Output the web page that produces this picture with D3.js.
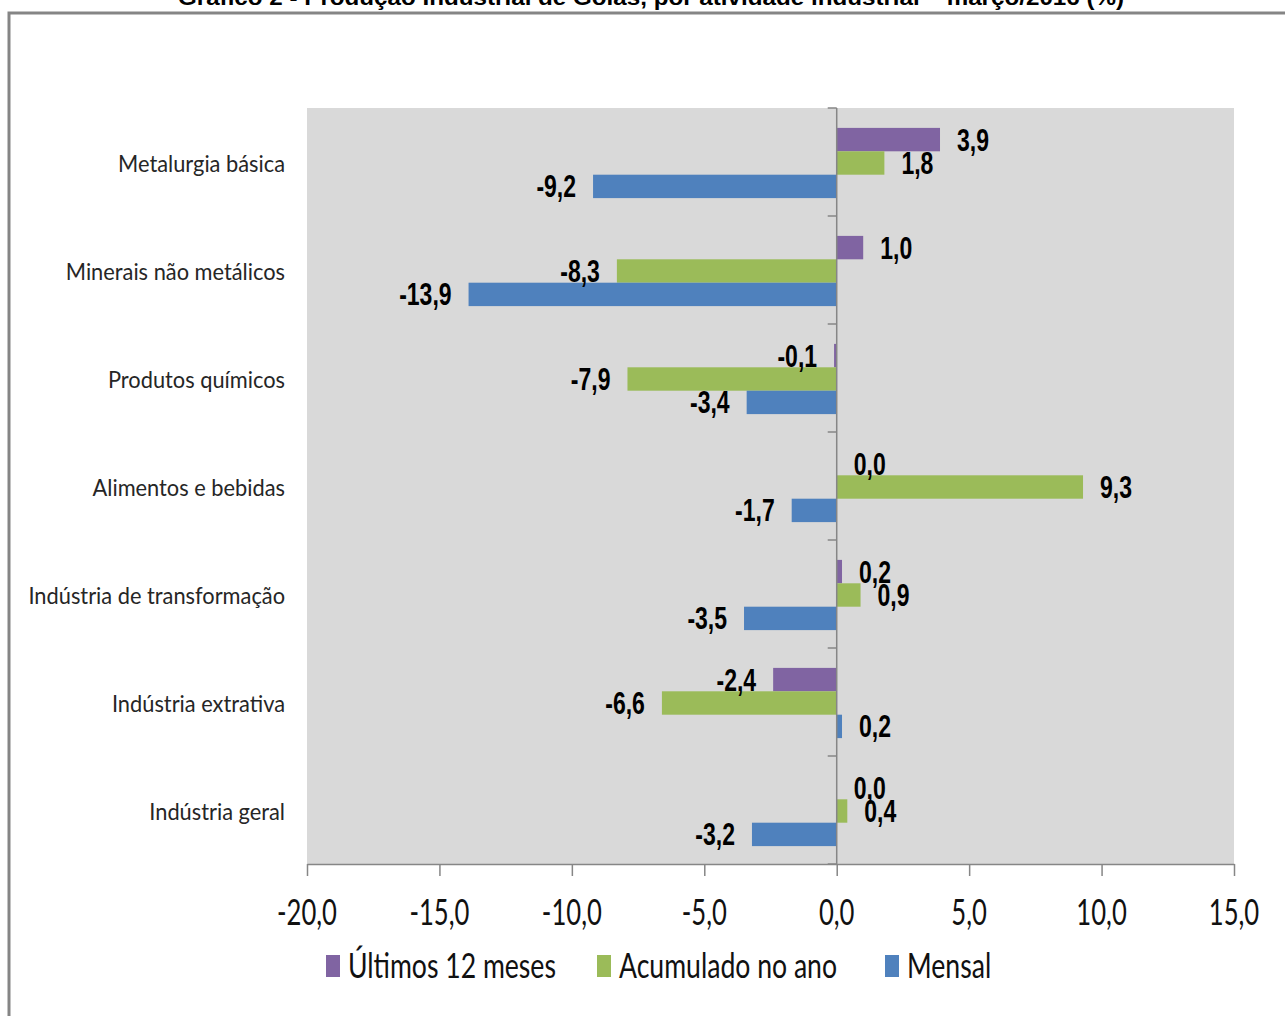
<!DOCTYPE html>
<html>
<head>
<meta charset="utf-8">
<script src="https://cdn.jsdelivr.net/npm/d3@7"></script>
<style>
  body { margin: 0; background: #fff; }
  svg { display: block; }
</style>
</head>
<body>
<div id="chart"></div>
<script>
const categories = [
  "Metalurgia básica",
  "Minerais não metálicos",
  "Produtos químicos",
  "Alimentos e bebidas",
  "Indústria de transformação",
  "Indústria extrativa",
  "Indústria geral"
];
const seriesNames = ["Últimos 12 meses", "Acumulado no ano", "Mensal"];
const ultimos12 = [3.9, 1.0, -0.1, 0.0, 0.2, -2.4, 0.0];
const acumulado = [1.8, -8.3, -7.9, 9.3, 0.9, -6.6, 0.4];
const mensal = [-9.2, -13.9, -3.4, -1.7, -3.5, 0.2, -3.2];
const xTicks = [-20, -15, -10, -5, 0, 5, 10, 15];
const titleText = "Gráfico 2 - Produção Industrial de Goiás, por atividade industrial – março/2016  (%)";

const colors = ["#8064a2", "#9bbb59", "#4f81bd"];
const seriesValues = [ultimos12, acumulado, mensal];

const width = 1285, height = 1016;
const plot = { left: 307, right: 1234, top: 108, bottom: 864 };

const svg = d3.select("#chart").append("svg")
  .attr("width", width)
  .attr("height", height);

svg.append("rect").attr("width", width).attr("height", height).attr("fill", "#fff");

// text width helper, the picture is squeezed horizontally
function measure(str, font) {
  const t = svg.append("text").style("font", font).text(str);
  const w = t.node().getComputedTextLength();
  t.remove();
  return w;
}

function addText(g, str, x, y, font, sx, anchor, fill) {
  return g.append("text")
    .attr("transform", "translate(" + x + "," + y + ") scale(" + sx + ",1)")
    .attr("text-anchor", anchor)
    .style("font", font)
    .attr("fill", fill)
    .text(str);
}

const fmt = v => d3.format(".1f")(v).replace(".", ",").replace("−", "-");

// outer frame
svg.append("path")
  .attr("d", "M9," + height + " L9,13 L" + width + ",13")
  .attr("fill", "none")
  .attr("stroke", "#858585")
  .attr("stroke-width", 3);

// title (cut at top in the original)
const titleFont = "bold 22px 'Liberation Sans', Arial, sans-serif";
addText(svg, titleText, 651, 5, titleFont, 947 / measure(titleText, titleFont), "middle", "#000");

// plot area
svg.append("rect")
  .attr("x", plot.left).attr("y", plot.top)
  .attr("width", plot.right - plot.left).attr("height", plot.bottom - plot.top)
  .attr("fill", "#d9d9d9");

const x = d3.scaleLinear().domain([-20, 15]).range([plot.left, plot.right]);
const y = d3.scaleBand().domain(categories).range([plot.top, plot.bottom])
  .paddingInner(0.35).paddingOuter(0.175);
const ySub = d3.scaleBand().domain(seriesNames).range([0, y.bandwidth()]);
const step = y.step();

// bars
const rows = svg.append("g").selectAll("g")
  .data(categories)
  .join("g")
  .attr("transform", d => "translate(0," + (y(d) + 1) + ")");

rows.selectAll("rect")
  .data((c, i) => seriesNames.map((s, j) => ({ s, j, v: seriesValues[j][i] })))
  .join("rect")
  .attr("x", d => x(Math.min(0, d.v)))
  .attr("width", d => Math.abs(x(d.v) - x(0)))
  .attr("y", d => ySub(d.s))
  .attr("height", ySub.bandwidth())
  .attr("fill", d => colors[d.j]);

// zero line with category ticks
const axisColor = "#868686";
svg.append("line")
  .attr("x1", x(0)).attr("x2", x(0))
  .attr("y1", plot.top).attr("y2", plot.bottom)
  .attr("stroke", axisColor).attr("stroke-width", 1.5);

svg.append("g").selectAll("line")
  .data(d3.range(categories.length + 1))
  .join("line")
  .attr("x1", x(0) - 9).attr("x2", x(0))
  .attr("y1", i => plot.top + i * step).attr("y2", i => plot.top + i * step)
  .attr("stroke", axisColor).attr("stroke-width", 1.5);

// bottom axis
const xAxis = svg.append("g")
  .attr("transform", "translate(0," + plot.bottom + ")")
  .call(d3.axisBottom(x).tickValues(xTicks).tickSize(12).tickSizeOuter(0).tickFormat(""));
xAxis.select(".domain").attr("stroke", axisColor).attr("stroke-width", 1.5);
xAxis.selectAll(".tick line").attr("stroke", axisColor).attr("stroke-width", 1.5);

const tickFont = "37px Lato, 'Open Sans', sans-serif";
const tickSx = 60 / measure("-20,0", tickFont);
xTicks.forEach(t => addText(svg, fmt(t), x(t), 925, tickFont, tickSx, "middle", "#111"));

// category labels
const catFont = "24px Lato, 'Open Sans', sans-serif";
const catSx = 167 / measure("Metalurgia básica", catFont);
categories.forEach(c => addText(svg, c, 285, y(c) + y.bandwidth() / 2 + 10, catFont, catSx, "end", "#262626"));

// data labels
const labFont = "bold 31px 'Liberation Sans', Arial, sans-serif";
const labSx = 32 / measure("3,9", labFont);
const labels = svg.append("g");
categories.forEach((c, i) => {
  seriesNames.forEach((s, j) => {
    const v = seriesValues[j][i];
    const yy = y(c) + 1 + ySub(s) + ySub.bandwidth() / 2 + 11;
    if (v >= 0) addText(labels, fmt(v), x(v) + 17, yy, labFont, labSx, "start", "#000");
    else addText(labels, fmt(v), x(v) - 17, yy, labFont, labSx, "end", "#000");
  });
});

// legend
const legFont = "34px Lato, 'Open Sans', sans-serif";
const legSx = 208 / measure("Últimos 12 meses", legFont);
const legX = [326, 597, 885];
seriesNames.forEach((s, j) => {
  svg.append("rect")
    .attr("x", legX[j]).attr("y", 955)
    .attr("width", 14).attr("height", 22)
    .attr("fill", colors[j]);
  addText(svg, s, legX[j] + 22, 978, legFont, legSx, "start", "#111");
});
</script>
</body>
</html>
